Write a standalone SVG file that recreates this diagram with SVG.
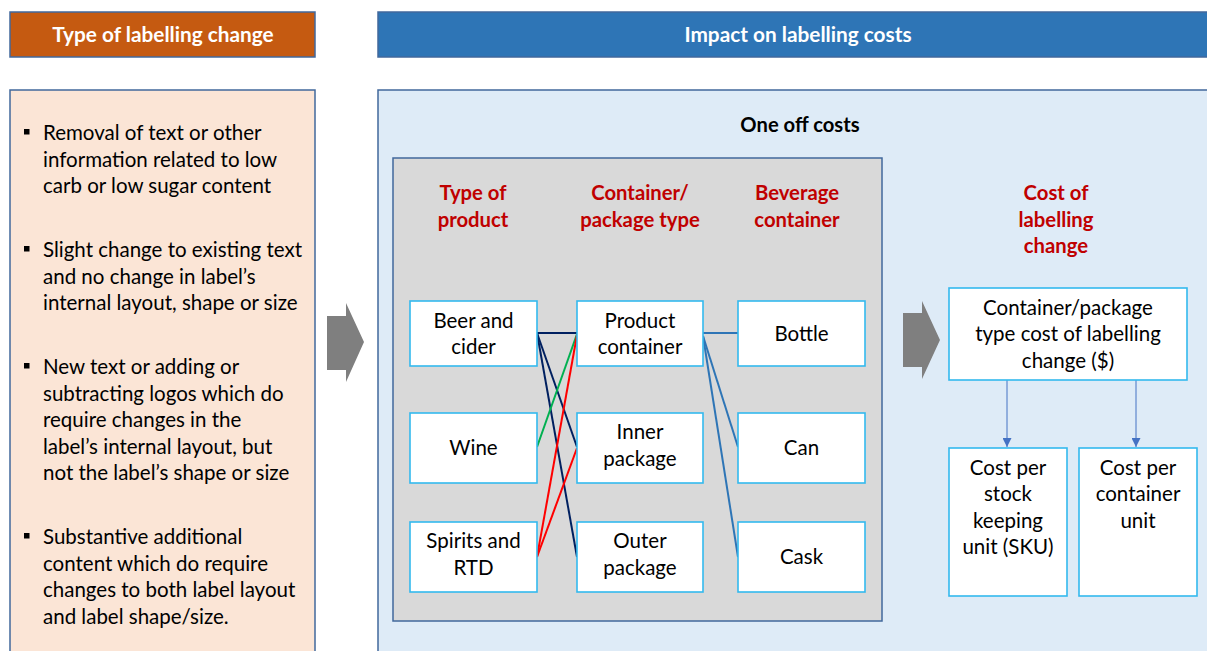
<svg xmlns="http://www.w3.org/2000/svg" width="1207" height="651" viewBox="0 0 1207 651">
  <defs>
    <style>
      text { font-family: Lato, "Open Sans", "Liberation Sans", sans-serif; }
      .hdr { font-size: 20.8px; font-weight: bold; fill: #ffffff; text-anchor: middle; }
      .body { font-size: 20.5px; fill: #000000; }
      .ttl { font-size: 20.2px; font-weight: bold; fill: #000000; text-anchor: middle; }
      .col { font-size: 20.3px; font-weight: bold; fill: #C00000; text-anchor: middle; }
      .lbl { font-size: 20.5px; fill: #000000; text-anchor: middle; }
      .node { fill: #ffffff; stroke: #33B9EE; stroke-width: 1.6; }
      .panel { stroke: #41689C; stroke-width: 1.5; }
      .bigarrow { fill: #7F7F7F; }
      .link { fill: none; stroke-width: 2; }
      .down { fill: none; stroke: #4472C4; stroke-width: 1; }
    </style>
    <marker id="tri" viewBox="0 0 10 10" refX="10" refY="5" markerWidth="9" markerHeight="9" markerUnits="userSpaceOnUse" orient="auto">
      <path d="M0,0 L10,5 L0,10 z" fill="#4472C4"/>
    </marker>
  </defs>

  <!-- headers -->
  <g id="header-type">
    <rect x="10" y="12" width="305" height="45" fill="#C55A11" class="panel"/>
    <text x="163" y="42" class="hdr">Type of labelling change</text>
  </g>
  <g id="header-impact">
    <rect x="378" y="12" width="840" height="45" fill="#2E75B6" class="panel"/>
    <text x="798" y="42" class="hdr">Impact on labelling costs</text>
  </g>

  <!-- left list of change types -->
  <g id="change-types">
    <rect x="10" y="90" width="305" height="580" fill="#FBE5D6" class="panel"/>
    <g fill="#000000">
      <rect x="24" y="129" width="5.5" height="5.5"/>
      <rect x="24" y="246" width="5.5" height="5.5"/>
      <rect x="24" y="363" width="5.5" height="5.5"/>
      <rect x="24" y="533" width="5.5" height="5.5"/>
    </g>
    <text class="body">
      <tspan x="43" y="140">Removal of text or other</tspan>
      <tspan x="43" y="166.5">information related to low</tspan>
      <tspan x="43" y="193">carb or low sugar content</tspan>
      <tspan x="43" y="257">Slight change to existing text</tspan>
      <tspan x="43" y="283.5">and no change in label’s</tspan>
      <tspan x="43" y="310">internal layout, shape or size</tspan>
      <tspan x="43" y="374">New text or adding or</tspan>
      <tspan x="43" y="400.5">subtracting logos which do</tspan>
      <tspan x="43" y="427">require changes in the</tspan>
      <tspan x="43" y="453.5">label’s internal layout, but</tspan>
      <tspan x="43" y="480">not the label’s shape or size</tspan>
      <tspan x="43" y="544">Substantive additional</tspan>
      <tspan x="43" y="570.5">content which do require</tspan>
      <tspan x="43" y="597">changes to both label layout</tspan>
      <tspan x="43" y="623.5">and label shape/size.</tspan>
    </text>
  </g>

  <!-- impact area -->
  <g id="impact-area">
    <rect x="378" y="90" width="840" height="580" fill="#DEEBF7" class="panel"/>
    <text x="800" y="132" class="ttl">One off costs</text>
    <rect x="393" y="158" width="489" height="463" fill="#D9D9D9" class="panel"/>
    <text class="col"><tspan x="473" y="200">Type of</tspan><tspan x="473" y="227">product</tspan></text>
    <text class="col"><tspan x="640" y="200">Container/</tspan><tspan x="640" y="227">package type</tspan></text>
    <text class="col"><tspan x="797" y="200">Beverage</tspan><tspan x="797" y="227">container</tspan></text>
    <text class="col"><tspan x="1056" y="200">Cost of</tspan><tspan x="1056" y="227">labelling</tspan><tspan x="1056" y="253">change</tspan></text>
  </g>

  <!-- flow arrows -->
  <g id="arrow-left">
    <polygon class="bigarrow" points="327,316 346,316 346,303 364,342 346,382 346,370 327,370"/>
  </g>
  <g id="arrow-right">
    <polygon class="bigarrow" points="903,313 922,313 922,301 940,340 922,379 922,367 903,367"/>
  </g>

  <!-- connectors -->
  <g id="connectors">
    <line class="link" x1="537" y1="333" x2="577" y2="333" stroke="#002060"/>
    <line class="link" x1="537" y1="333" x2="577" y2="447" stroke="#002060"/>
    <line class="link" x1="537" y1="333" x2="577" y2="557" stroke="#002060"/>
    <line class="link" x1="537" y1="447" x2="577" y2="334" stroke="#00B050"/>
    <line class="link" x1="537" y1="557" x2="577" y2="335" stroke="#FF0000"/>
    <line class="link" x1="537" y1="557" x2="577" y2="448" stroke="#FF0000"/>
    <line class="link" x1="703" y1="333" x2="738" y2="333" stroke="#2E75B6"/>
    <line class="link" x1="703" y1="336" x2="738" y2="447" stroke="#2E75B6"/>
    <line class="link" x1="703" y1="336" x2="738" y2="557" stroke="#2E75B6"/>
    <line class="down" x1="1007" y1="380" x2="1007" y2="447" marker-end="url(#tri)"/>
    <line class="down" x1="1136" y1="380" x2="1136" y2="447" marker-end="url(#tri)"/>
  </g>

  <!-- product types -->
  <g id="beer-cider">
    <rect class="node" x="410" y="301" width="127" height="65"/>
    <text class="lbl"><tspan x="473.5" y="328">Beer and</tspan><tspan x="473.5" y="354">cider</tspan></text>
  </g>
  <g id="wine">
    <rect class="node" x="410" y="413" width="127" height="70"/>
    <text class="lbl" x="473.5" y="455">Wine</text>
  </g>
  <g id="spirits-rtd">
    <rect class="node" x="410" y="522" width="127" height="70"/>
    <text class="lbl"><tspan x="473.5" y="548">Spirits and</tspan><tspan x="473.5" y="575">RTD</tspan></text>
  </g>

  <!-- container / package types -->
  <g id="product-container">
    <rect class="node" x="577" y="301" width="126" height="65"/>
    <text class="lbl"><tspan x="640" y="328">Product</tspan><tspan x="640" y="354">container</tspan></text>
  </g>
  <g id="inner-package">
    <rect class="node" x="577" y="413" width="126" height="70"/>
    <text class="lbl"><tspan x="640" y="439">Inner</tspan><tspan x="640" y="466">package</tspan></text>
  </g>
  <g id="outer-package">
    <rect class="node" x="577" y="522" width="126" height="70"/>
    <text class="lbl"><tspan x="640" y="548">Outer</tspan><tspan x="640" y="575">package</tspan></text>
  </g>

  <!-- beverage containers -->
  <g id="bottle">
    <rect class="node" x="738" y="301" width="127" height="65"/>
    <text class="lbl" x="801.5" y="341">Bottle</text>
  </g>
  <g id="can">
    <rect class="node" x="738" y="413" width="127" height="70"/>
    <text class="lbl" x="801.5" y="455">Can</text>
  </g>
  <g id="cask">
    <rect class="node" x="738" y="522" width="127" height="70"/>
    <text class="lbl" x="801.5" y="564">Cask</text>
  </g>

  <!-- cost outputs -->
  <g id="type-cost">
    <rect class="node" x="949" y="288" width="238" height="92"/>
    <text class="lbl"><tspan x="1068" y="315">Container/package</tspan><tspan x="1068" y="341">type cost of labelling</tspan><tspan x="1068" y="368">change ($)</tspan></text>
  </g>
  <g id="cost-sku">
    <rect class="node" x="949" y="448" width="118" height="148"/>
    <text class="lbl"><tspan x="1008" y="475">Cost per</tspan><tspan x="1008" y="501">stock</tspan><tspan x="1008" y="528">keeping</tspan><tspan x="1008" y="554">unit (SKU)</tspan></text>
  </g>
  <g id="cost-container-unit">
    <rect class="node" x="1079" y="448" width="118" height="148"/>
    <text class="lbl"><tspan x="1138" y="475">Cost per</tspan><tspan x="1138" y="501">container</tspan><tspan x="1138" y="528">unit</tspan></text>
  </g>
</svg>
